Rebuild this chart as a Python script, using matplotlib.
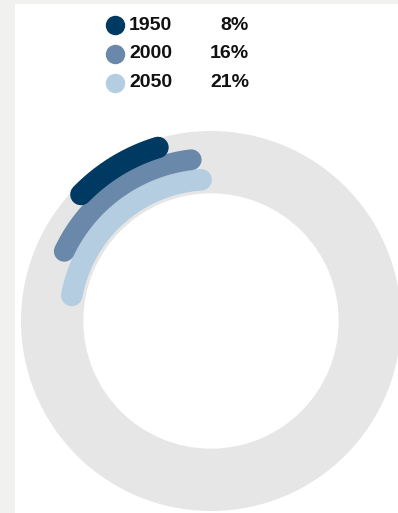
import numpy as np
import matplotlib
matplotlib.use("Agg")
import matplotlib.pyplot as plt
from matplotlib.patches import Wedge, Rectangle
from matplotlib.lines import Line2D

# ---- data ----
years = ["1950", "2000", "2050"]
shares = [8, 16, 21]          # percent
labels = ["8%", "16%", "21%"]
colors = ["#003a63", "#6a89aa", "#b5cde1"]

# ---- layout / style ----
W, H = 398, 513
fig = plt.figure(figsize=(W / 100, H / 100), dpi=100)
fig.patch.set_facecolor("#f1f1ef")
fig.add_artist(Rectangle((15 / W, 0), 1, (H - 4) / H, transform=fig.transFigure,
                         facecolor="white", edgecolor="none", zorder=0))

cx, cy, R = 211, 321, 190       # ring centre / outer radius in px
half = 200
ax = fig.add_axes([(cx - half) / W, (H - cy - half) / H, 2 * half / W, 2 * half / H])
lim = half / R
ax.set_xlim(-lim, lim)
ax.set_ylim(-lim, lim)
ax.set_aspect("equal")
ax.axis("off")

ax.add_patch(Wedge((0, 0), 1.0, 0, 360, width=0.328, facecolor="#e6e6e6", edgecolor="none"))

radii = [0.955, 0.855, 0.745]
starts = [107, 97, 94]          # degrees, counter-clockwise
lws = [15.5, 15, 15.5]
for i in [2, 1, 0]:
    th = np.deg2rad(np.linspace(starts[i], starts[i] + shares[i] * 3.6, 200))
    ax.plot(radii[i] * np.cos(th), radii[i] * np.sin(th), color=colors[i],
            lw=lws[i], solid_capstyle="round", zorder=3 + (2 - i))

# ---- legend ----
rows = [25, 54, 83]
for yr, lab, c, yp in zip(years, labels, colors, rows):
    fy = 1 - yp / H
    fig.add_artist(Line2D([115 / W], [fy], marker="o", markersize=13, color=c,
                          markeredgecolor=c, transform=fig.transFigure))
    fig.text(129 / W, fy, yr, fontsize=14, fontweight="bold", family="Liberation Sans",
             va="center", ha="left", color="#111111")
    fig.text(249 / W, fy, lab, fontsize=14, fontweight="bold", family="Liberation Sans",
             va="center", ha="right", color="#111111")

fig.savefig("out.png", dpi=100, facecolor=fig.get_facecolor())
